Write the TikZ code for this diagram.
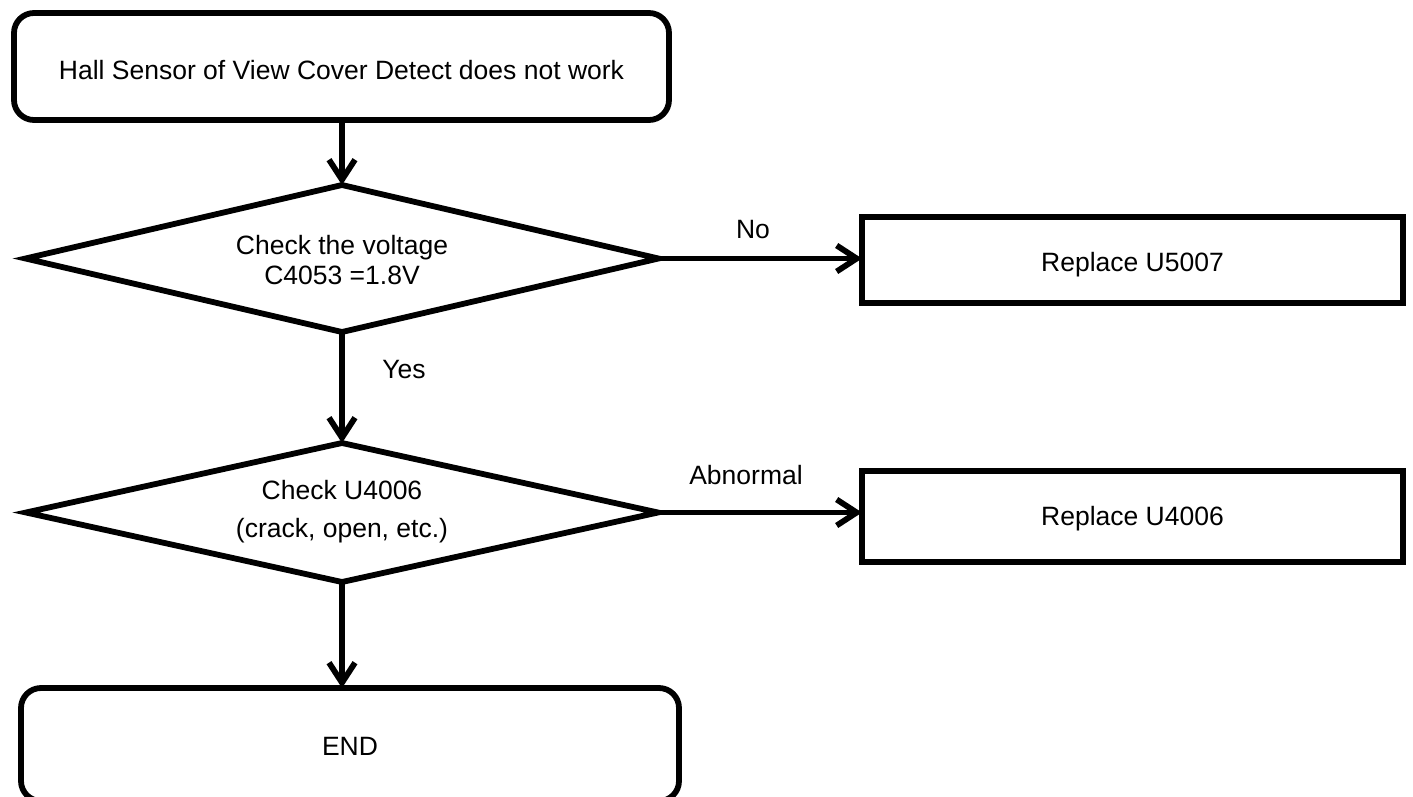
\documentclass[tikz,border=0pt]{standalone}
\usepackage{fontspec}
\setmainfont{Liberation Sans}
\usetikzlibrary{shapes.geometric,arrows.meta}
\newcommand{\lowertext}[2]{\raisebox{-#1}[\height][\depth]{#2}}
\begin{document}
\begin{tikzpicture}[x=1pt,y=-1pt,
  every node/.style={font=\fontsize{26.5}{30}\selectfont, outer sep=0pt, inner sep=0pt},
  lw/.style={line width=5.8pt},
  term/.style={draw, lw, rounded corners=20pt, rectangle},
  proc/.style={draw, lw, rectangle, line join=miter},
  dec/.style={draw, lw, diamond, shape aspect=4.2, line join=miter, align=center},
  flow/.style={lw, -{Straight Barb[length=20pt,width=26pt]}}]
\useasboundingbox (0,0) rectangle (1413,796);
\node[term, minimum width=655pt, minimum height=107pt] (start) at (341.5,66.5)
  {\lowertext{4pt}{Hall Sensor of View Cover Detect does not work}};
\node[dec, minimum width=633pt, minimum height=147pt] (d1) at (342,258.5)
  {\lowertext{2pt}{Check the voltage}\\\lowertext{2pt}{C4053 =1.8V}};
\node[proc, minimum width=541pt, minimum height=86pt] (r1) at (1132.5,260)
  {\lowertext{5pt}{Replace U5007}};
\node[dec, minimum width=632pt, minimum height=139pt] (d2) at (342,512.5)
  {\lowertext{-1pt}{Check U4006}\\[8pt]\lowertext{-1pt}{(crack, open, etc.)}};
\node[proc, minimum width=541pt, minimum height=91pt] (r2) at (1132.5,516.5)
  {\lowertext{2pt}{Replace U4006}};
\node[term, minimum width=658pt, minimum height=113pt] (e) at (350,744.5)
  {\lowertext{2pt}{END}};
\node (no) at (753,230) {No};
\node (yes) at (404,370) {Yes};
\node (ab) at (746,475) {Abnormal};
\draw[flow] (start.south -| d1.north) -- (d1.north);
\draw[flow] (d1.east) -- (d1.east -| r1.west);
\draw[flow] (d1.south) -- (d2.north);
\draw[flow] (d2.east) -- (d2.east -| r2.west);
\draw[flow] (d2.south) -- (d2.south |- e.north);
\end{tikzpicture}
\end{document}
